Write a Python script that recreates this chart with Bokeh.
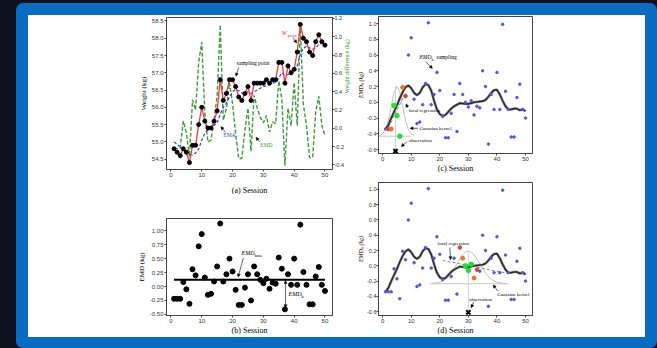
import math
from bokeh.plotting import figure
from bokeh.layouts import row, column
from bokeh.models import (Range1d, LinearAxis, FixedTicker, NumeralTickFormatter,
                          Label, Arrow, NormalHead, Spacer)
from bokeh.embed import file_html
from bokeh.resources import INLINE

# ---------------- data ----------------
sessions = list(range(1, 51))
weight = [54.8, 54.7, 54.6, 54.8, 54.7, 54.4, 54.9, 54.9, 55.5, 56.0,
          55.6, 55.4, 55.4, 55.6, 55.9, 56.8, 56.2, 56.4, 56.8, 56.8,
          56.6, 56.3, 56.2, 56.4, 56.6, 56.2, 56.7, 56.7, 56.7, 56.7,
          56.8, 56.7, 56.8, 56.8, 57.3, 57.3, 56.7, 57.2, 57.0, 57.1,
          57.6, 58.4, 58.0, 57.9, 57.6, 57.5, 57.9, 58.1, 57.9, 57.8]
ema = [55.0, 54.93, 54.85, 54.8, 54.75, 54.65, 54.62, 54.68, 54.8, 55.05,
       55.25, 55.35, 55.42, 55.48, 55.55, 55.8, 56.0, 56.12, 56.3, 56.45,
       56.52, 56.48, 56.42, 56.4, 56.45, 56.4, 56.45, 56.5, 56.55, 56.6,
       56.62, 56.65, 56.7, 56.72, 56.85, 57.0, 56.92, 56.95, 57.0, 57.02,
       57.2, 57.55, 57.7, 57.78, 57.72, 57.68, 57.72, 57.82, 57.85, 57.85]
emd = [-0.22, -0.22, -0.22, 0.08, -0.05, -0.31, 0.31, 0.20, 0.72, 0.94,
       0.16, -0.15, -0.13, 0.09, 0.36, 1.13, 0.09, 0.22, 0.50, 0.27,
       -0.06, -0.33, -0.33, -0.02, 0.22, -0.25, 0.36, 0.22, 0.12, 0.06,
       0.14, -0.04, 0.07, 0.05, 0.52, 0.32, -0.41, 0.22, 0.03, 0.50,
       0.03, 1.11, 0.26, 0.03, -0.32, -0.32, 0.18, 0.35, 0.03, -0.08]
emd_base = 0.12
emd_k = [-0.34, -0.34, -0.34, -0.04, -0.17, -0.43, 0.19, 0.08, 0.60, 0.82,
         0.04, -0.27, -0.25, -0.03, 0.24, 1.01, -0.03, 0.10, 0.38, 0.15,
         -0.18, -0.45, -0.45, -0.14, 0.10, -0.37, 0.24, 0.10, 0.00, -0.06,
         0.02, -0.16, -0.05, -0.07, 0.40, 0.20, -0.53, 0.10, -0.09, 0.38,
         -0.09, 0.99, 0.14, -0.09, -0.44, -0.44, 0.06, 0.23, -0.09, -0.20]
kernel_fit = [-0.34, -0.29, -0.20, -0.12, -0.04, 0.05, 0.13, 0.19, 0.215, 0.18,
              0.12, 0.09, 0.12, 0.19, 0.23, 0.22, 0.15, 0.02, -0.09, -0.15,
              -0.17, -0.16, -0.12, -0.08, -0.05, -0.03, -0.01, -0.015, -0.02, -0.02,
              -0.01, 0.0, 0.005, 0.01, 0.015, 0.03, 0.07, 0.12, 0.155, 0.16,
              0.10, 0.02, -0.05, -0.09, -0.09, -0.08, -0.08, -0.10, -0.09, -0.11]

x_ticks = [0, 10, 20, 30, 40, 50]
weight_ticks = [54.5, 55.0, 55.5, 56.0, 56.5, 57.0, 57.5, 58.0, 58.5]
wdiff_ticks = [-0.4, -0.2, 0.0, 0.2, 0.4, 0.6, 0.8, 1.0, 1.2]
emd_ticks = [-0.5, -0.25, 0.0, 0.25, 0.5, 0.75, 1.0]
emdk_ticks = [-0.6, -0.4, -0.2, 0.0, 0.2, 0.4, 0.6, 0.8, 1.0]

# kernel windows (session numbers)
c_green, c_orange, c_red = [4, 5, 6], [3, 7], [2, 8]
d_green, d_orange, d_red = [29, 30, 31], [28, 32], [27, 33]
# gaussian kernels
c_bell_s = [-1, 0, 1, 2, 3, 4, 5, 6, 7, 8, 9, 10, 11]
c_bell_v = [-0.42, -0.40, -0.345, -0.225, -0.05, 0.126, 0.2, 0.126, -0.05, -0.225, -0.345, -0.40, -0.42]
c_base_s, c_base_v = [-1.3, 10.0], [-0.43, -0.43]
d_bell_s = [17, 20, 22, 24, 26, 27, 28, 29, 30, 31, 32, 33, 34, 36, 38, 40, 43]
d_bell_v = [-0.233, -0.216, -0.177, -0.095, 0.026, 0.090, 0.144, 0.182, 0.195, 0.182,
            0.144, 0.090, 0.026, -0.095, -0.177, -0.216, -0.233]
d_base_s, d_base_v = [16.5, 44.2], [-0.235, -0.235]
# local regression lines
c_reg_s, c_reg_v = [2, 8], [-0.32, 0.12]
d_reg_s, d_reg_v = [21, 44], [0.07, -0.10]
# observations
c_obs_s, c_obs_v = [4.5], [-0.62]
d_obs_s, d_obs_v = [30], [-0.61]

# ---------------- styling helpers ----------------
TICK_FONT = "Liberation Sans"
SERIF = "Liberation Serif"
AX = "#444444"


def make_fig(w, h, xr, yr, bl, br, bt, bb):
    p = figure(width=w, height=h, x_range=Range1d(*xr), y_range=Range1d(*yr),
               output_backend="svg", toolbar_location=None,
               min_border_left=bl, min_border_right=br, min_border_top=bt, min_border_bottom=bb,
               background_fill_color="white", border_fill_color="white",
               outline_line_color=AX, outline_line_width=1)
    p.grid.visible = False
    return p


def style_axis(ax, ticks, fmt, label="", label_size="7px", color="black", italic=False, tick_size="6px"):
    ax.ticker = FixedTicker(ticks=ticks)
    ax.formatter = NumeralTickFormatter(format=fmt)
    ax.major_label_text_font = TICK_FONT
    ax.major_label_text_font_size = tick_size
    ax.major_label_text_color = "#333333"
    ax.major_tick_out = 2
    ax.major_tick_in = 0
    ax.minor_tick_out = 0
    ax.minor_tick_in = 0
    ax.axis_line_color = AX
    ax.major_tick_line_color = AX
    ax.major_label_standoff = 1
    ax.axis_label = label
    ax.axis_label_text_font = SERIF
    ax.axis_label_text_font_size = label_size
    ax.axis_label_text_font_style = "italic" if italic else "normal"
    ax.axis_label_text_color = color
    ax.axis_label_standoff = 1


def note(p, x, y, text, size="5.5px", color="black", style="normal", x_off=0, y_off=0):
    p.add_layout(Label(x=x, y=y, text=text, text_font=SERIF, text_font_size=size,
                       text_color=color, text_font_style=style, text_baseline="middle",
                       x_offset=x_off, y_offset=y_off))


def arrow(p, x0, y0, x1, y1, both=False):
    head = NormalHead(size=3, fill_color="black", line_color="black", line_width=0.5)
    kw = dict(end=head, x_start=x0, y_start=y0, x_end=x1, y_end=y1,
              line_color="black", line_width=0.6)
    if both:
        kw["start"] = NormalHead(size=3, fill_color="black", line_color="black", line_width=0.5)
    p.add_layout(Arrow(**kw))


XR = (-1.45, 52.45)
LW = 327          # left column width
RW = 617 - LW     # right column width

# ---------------- (a) ----------------
pA = make_fig(LW, 185, XR, (54.2, 58.6), 138, LW - 305, 2, 31)
pA.extra_y_ranges = {"wd": Range1d(-0.45, 1.21)}
pA.line(sessions, emd, y_range_name="wd", line_color="#3c9a3c", line_width=1.4, line_dash="4 2")
pA.line(sessions, ema, line_color="#3a3ae8", line_width=1.2, line_dash="3 2")
pA.line(sessions, weight, line_color="#f03c3c", line_width=1.3)
pA.scatter(sessions, weight, marker="circle", size=4, fill_color="black", line_color="black")
style_axis(pA.xaxis[0], x_ticks, "0", "(a) Session", "8px")
pA.xaxis[0].axis_label_standoff = 6
style_axis(pA.yaxis[0], weight_ticks, "0.0", "Weight (kg)", "7px")
axR = LinearAxis(y_range_name="wd")
style_axis(axR, wdiff_ticks, "0.0", "Weight difference (kg)", "6px", color="#3c9a3c", tick_size="5.5px")
axR.axis_label_standoff = 0
axR.major_label_standoff = 0
axR.axis_label_orientation = math.pi / 2
pA.add_layout(axR, "right")
note(pA, 21.3, 57.28, "sampling point", "5.5px")
arrow(pA, 22.0, 57.15, 21.1, 56.9)
note(pA, 17.0, 55.2, "EMA", "5.5px", color="#3a3ae8")
arrow(pA, 17.8, 55.27, 16.2, 55.44)
note(pA, 29.0, 54.9, "EMD", "5.5px", color="#3c9a3c")
arrow(pA, 28.8, 55.0, 27.6, 55.13)
note(pA, 36.0, 58.14, "W", "6px", color="#e03030", style="italic")
note(pA, 36.0, 58.14, "prior", "4.5px", color="#e03030", x_off=6, y_off=-2)
arrow(pA, 39.6, 58.02, 40.8, 57.86)

# ---------------- (b) ----------------
pB = make_fig(LW, 137, XR, (-0.52, 1.22), 138, LW - 307, 18, 18)
pB.line([1, 50], [emd_base, emd_base], line_color="black", line_width=2)
pB.scatter(sessions, emd, marker="circle", size=5, fill_color="black", line_color="black")
style_axis(pB.xaxis[0], x_ticks, "0", "(b) Session", "8px")
pB.xaxis[0].axis_label_standoff = 0
style_axis(pB.yaxis[0], emd_ticks, "0.00", "EMD (kg)", "7px")
note(pB, 22.9, 0.6, "EMD", "6px", style="italic")
note(pB, 22.9, 0.6, "base", "4.5px", x_off=13, y_off=-2)
arrow(pB, 23.5, 0.51, 21.8, 0.17)
note(pB, 38.2, -0.14, "EMD", "6px", style="italic")
note(pB, 38.2, -0.14, "k", "4.5px", x_off=13, y_off=-2)
arrow(pB, 37.2, 0.11, 37.2, -0.38, both=True)


# ---------------- (c) & (d) ----------------
def kernel_panel(p, green, orange, red, bell_s, bell_v, base_s, base_v, reg_s, reg_v, obs_s, obs_v):
    p.line(base_s, base_v, line_color="#c8c8c8", line_width=1)
    p.line(bell_s, bell_v, line_color="#c0c0c0", line_width=1)
    p.line([obs_s[0], obs_s[0]], [obs_v[0], max(bell_v)], line_color="#c8c8c8", line_width=0.8)
    p.line(reg_s, reg_v, line_color="#8a8a8a", line_width=1, line_dash="3 2")
    p.line(sessions, kernel_fit, line_color="#a8a8a8", line_width=2.8)
    p.line(sessions, kernel_fit, line_color="#2a2a2a", line_width=1.6)
    p.scatter(sessions, emd_k, marker="circle", size=2.5, fill_color="#5555e6", line_color="#5555e6")
    for idx, col, sz in ((red, "#e0403a", 3.5), (orange, "#e8782a", 4), (green, "#22dd33", 4.5)):
        p.scatter([s for s in idx], [emd_k[s - 1] for s in idx], marker="circle", size=sz,
                  fill_color=col, line_color=col)
    p.scatter(obs_s, obs_v, marker="x", size=6, line_color="black", line_width=2)


def kernel_yaxis(p):
    style_axis(p.yaxis[0], emdk_ticks, "0.0", "EMDₖ (kg)", "6px", italic=True, tick_size="5.5px")
    p.yaxis[0].axis_label_standoff = 0
    p.yaxis[0].major_label_standoff = 0


YRK = (-0.65, 1.09)
pC = make_fig(RW, 160, XR, YRK, 376 - 28 - LW, 113, 1, 21)
kernel_panel(pC, c_green, c_orange, c_red, c_bell_s, c_bell_v, c_base_s, c_base_v,
             c_reg_s, c_reg_v, c_obs_s, c_obs_v)
style_axis(pC.xaxis[0], x_ticks, "0", "(c) Session", "8px")
pC.xaxis[0].axis_label_standoff = 0
kernel_yaxis(pC)
note(pC, 12.9, 0.575, "EMD", "5.5px", style="italic")
note(pC, 12.9, 0.575, "k", "4px", x_off=12, y_off=-2)
note(pC, 12.9, 0.575, "sampling", "5.5px", x_off=17)
arrow(pC, 15.0, 0.52, 17.4, 0.43)
note(pC, 9.1, -0.10, "local regression", "5px")
arrow(pC, 8.8, -0.07, 8.2, -0.02)
note(pC, 12.9, -0.33, "Gaussian kernel", "5px")
arrow(pC, 12.4, -0.33, 9.6, -0.33)
note(pC, 9.1, -0.48, "observation", "5px")
arrow(pC, 8.6, -0.50, 6.5, -0.56)

pD = make_fig(RW, 162, XR, YRK, 376 - 28 - LW, 113, 7, 18)
kernel_panel(pD, d_green, d_orange, d_red, d_bell_s, d_bell_v, d_base_s, d_base_v,
             d_reg_s, d_reg_v, d_obs_s, d_obs_v)
style_axis(pD.xaxis[0], x_ticks, "0", "(d) Session", "8px")
pD.xaxis[0].axis_label_standoff = 0
kernel_yaxis(pD)
note(pD, 19.2, 0.29, "local regression", "5px")
arrow(pD, 23.5, 0.24, 23.8, 0.08)
note(pD, 40.1, -0.376, "Gaussian kernel", "5px")
arrow(pD, 40.3, -0.33, 38.7, -0.25)
note(pD, 30.2, -0.44, "observation", "5px")
arrow(pD, 31.9, -0.47, 31.0, -0.55)

# ---------------- page layout ----------------
white = row(column(pA, pB), column(pC, pD), styles={"background-color": "white"})
blue = column(Spacer(width=641, height=12),
              row(Spacer(width=12, height=322), white, Spacer(width=12, height=322)),
              Spacer(width=641, height=11),
              styles={"background-color": "#0a6cc0", "border-radius": "7px"})
page = row(Spacer(width=16, height=348),
           column(Spacer(width=641, height=3), blue),
           styles={"background-color": "#10101f"})

open("out.html", "w").write(file_html(page, INLINE))
